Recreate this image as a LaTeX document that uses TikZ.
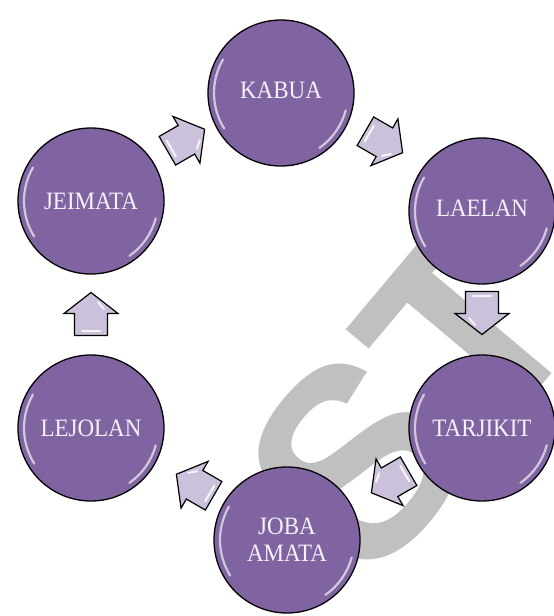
\documentclass[tikz,border=0pt]{standalone}
\usepackage{fontspec}
\setmainfont[FakeStretch=0.92]{Liberation Serif}
\newfontfamily\wmfont{Liberation Sans}
\definecolor{circfill}{HTML}{8064A2}
\definecolor{arrfill}{HTML}{CCC1DA}
\definecolor{wmgray}{HTML}{C0C0C0}
\definecolor{txtcol}{HTML}{F4F1F8}
\begin{document}
\begin{tikzpicture}[x=1pt,y=-1pt,
  stage/.style={circle, draw=black, line width=1.3pt, fill=circfill, minimum size=146pt, inner sep=0pt,
    text=txtcol, font=\fontsize{25}{27}\selectfont, align=center},
  flowline/.style={draw=black, line width=1.2pt, fill=arrfill, line join=miter},
  shine/.style={white, opacity=0.65, line width=2.2pt, line cap=round},
  ashine/.style={white, opacity=0.85, line width=2pt, line cap=round},
  pics/flowarrow/.style={code={
    \path[flowline] (-21.5,-16.5) -- (0.5,-16.5) -- (0.5,-27) -- (21.5,0) -- (0.5,27) -- (0.5,16.5) -- (-21.5,16.5) -- cycle;
    \draw[ashine] (-17,-9) -- (-17,9);
    \draw[ashine] (5,13) -- (12,7);
  }}
]
\path[use as bounding box, fill=white] (0,0) rectangle (554,616);
% watermark
\node[rotate=50, text=wmgray, font=\wmfont\bfseries\fontsize{270}{270}\selectfont] (wm) at (410,398) {ST};
% stages
\node[stage] (kab) at (281,93) {\raisebox{6pt}{KABUA}};
\node[stage] (lae) at (482,211) {\raisebox{6pt}{LAELAN}};
\node[stage] (tar) at (482,428) {TARJIKIT};
\node[stage] (job) at (287,540) {JOBA\\AMATA};
\node[stage] (lej) at (91,428) {LEJOLAN};
\node[stage] (jei) at (91,201) {JEIMATA};
\foreach \n in {kab,lae,tar,job,lej,jei}{
  \begin{scope}[shift={(\n.center)}, x=1pt, y=1pt]
    \draw[shine] (150:67) arc (150:212:67);
    \draw[shine] (-15:67) arc (-15:-55:67);
  \end{scope}
}
% flow arrows
\coordinate (a1) at (384,142);
\coordinate (a2) at (482,313);
\coordinate (a3) at (390,482);
\coordinate (a4) at (195,485);
\coordinate (a5) at (91,314);
\coordinate (a6) at (186,140);
\pic[rotate=-30] at (a1) {flowarrow};
\pic[rotate=-90] at (a2) {flowarrow};
\pic[rotate=210] at (a3) {flowarrow};
\pic[rotate=150] at (a4) {flowarrow};
\pic[rotate=90] at (a5) {flowarrow};
\pic[rotate=30] at (a6) {flowarrow};
\end{tikzpicture}
\end{document}
